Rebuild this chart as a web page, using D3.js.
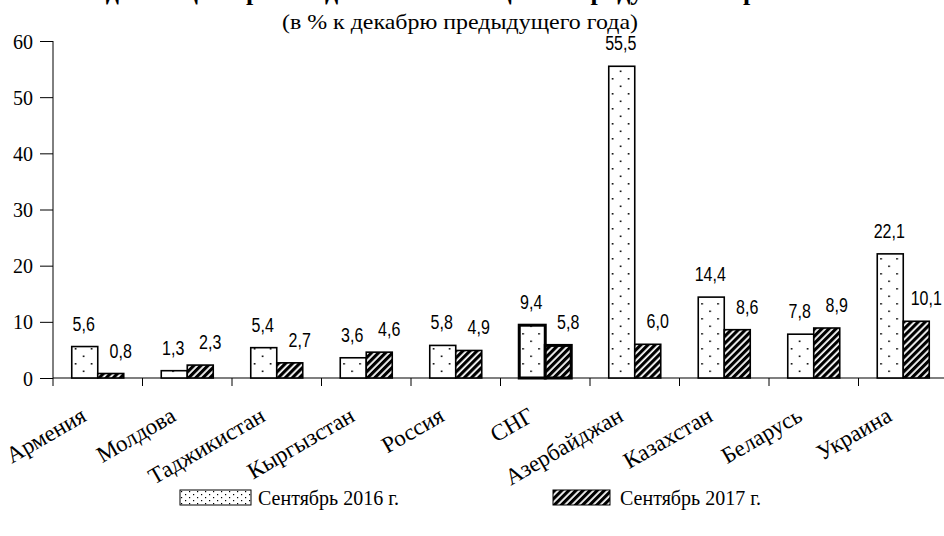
<!DOCTYPE html>
<html>
<head>
<meta charset="utf-8">
<script src="https://cdn.jsdelivr.net/npm/d3@7"></script>
<style>
  body { margin: 0; background: #fff; }
  svg { display: block; }
</style>
</head>
<body>
<svg id="chart" width="944" height="536"></svg>
<script>
const countries = ["Армения", "Молдова", "Таджикистан", "Кыргызстан", "Россия", "СНГ",
    "Азербайджан", "Казахстан", "Беларусь", "Украина"];
const sep2016 = [5.6, 1.3, 5.4, 3.6, 5.8, 9.4, 55.5, 14.4, 7.8, 22.1];
const sep2017 = [0.8, 2.3, 2.7, 4.6, 4.9, 5.8, 6.0, 8.6, 8.9, 10.1];
const seriesNames = ["Сентябрь 2016 г.", "Сентябрь 2017 г."];
const yTicks = [0, 10, 20, 30, 40, 50, 60];

const svg = d3.select("#chart");
const serif = "'Liberation Serif', 'Times New Roman', serif";
const sans = "'Liberation Sans', Arial, sans-serif";

// patterns
const defs = svg.append("defs");
const dots = defs.append("pattern")
    .attr("id", "dots")
    .attr("patternUnits", "userSpaceOnUse")
    .attr("width", 16).attr("height", 15);
dots.append("rect").attr("width", 16).attr("height", 15).attr("fill", "#fff");
dots.append("rect").attr("x", 3).attr("y", 3).attr("width", 1.6).attr("height", 1.6).attr("fill", "#000");
dots.append("rect").attr("x", 11).attr("y", 10.5).attr("width", 1.6).attr("height", 1.6).attr("fill", "#000");

const dotsSmall = defs.append("pattern")
    .attr("id", "dotsSmall")
    .attr("patternUnits", "userSpaceOnUse")
    .attr("width", 8).attr("height", 6);
dotsSmall.append("rect").attr("width", 8).attr("height", 6).attr("fill", "#fff");
dotsSmall.append("rect").attr("x", 1).attr("y", 1).attr("width", 1.2).attr("height", 1.2).attr("fill", "#000");
dotsSmall.append("rect").attr("x", 5).attr("y", 4).attr("width", 1.2).attr("height", 1.2).attr("fill", "#000");

const hatch = defs.append("pattern")
    .attr("id", "hatch")
    .attr("patternUnits", "userSpaceOnUse")
    .attr("width", 5).attr("height", 5)
    .attr("patternTransform", "rotate(45)");
hatch.append("rect").attr("width", 5).attr("height", 5).attr("fill", "#fff");
hatch.append("rect").attr("x", 0).attr("y", 0).attr("width", 3.2).attr("height", 5).attr("fill", "#000");

const fills = ["url(#dots)", "url(#hatch)"];

const x = d3.scaleBand().domain(countries).range([53, 948]);
const xSub = d3.scaleBand().domain([0, 1]).range([0, 52]);
const y = d3.scaleLinear().domain([0, 60]).range([378, 41]);

// title, cut off at the top edge like in the source
svg.append("text")
    .attr("x", 472).attr("y", 0)
    .attr("text-anchor", "middle")
    .attr("font-family", serif).attr("font-weight", "bold").attr("font-size", 26)
    .text("Индексы цен производителей на пищевые продукты в странах СНГ");

svg.append("text")
    .attr("x", 460).attr("y", 29)
    .attr("text-anchor", "middle")
    .attr("textLength", 356).attr("lengthAdjust", "spacingAndGlyphs")
    .attr("font-family", serif).attr("font-size", 22)
    .text("(в % к декабрю предыдущего года)");

// y axis
const yAxis = svg.append("g")
    .attr("transform", "translate(53,0)")
    .call(d3.axisLeft(y).tickValues(yTicks).tickSize(13).tickPadding(7).tickFormat(d3.format("d")));
yAxis.select(".domain").attr("d", `M0,${y(60)}V${y(0)}`).attr("stroke", "#000");
yAxis.selectAll(".tick line").attr("stroke", "#000");
yAxis.selectAll(".tick text")
    .attr("font-family", serif).attr("font-size", 20).attr("fill", "#000").attr("dy", "0.35em");

// x axis line and separators
const bounds = countries.map(c => x(c));
svg.append("line")
    .attr("x1", 53).attr("x2", 944)
    .attr("y1", y(0)).attr("y2", y(0))
    .attr("stroke", "#000").attr("stroke-width", 1.2);
svg.append("g").selectAll("line")
    .data(bounds)
    .join("line")
    .attr("x1", d => d).attr("x2", d => d)
    .attr("y1", y(0)).attr("y2", y(0) + 8)
    .attr("stroke", "#000");

// bars
const groups = svg.append("g").selectAll("g")
    .data(countries)
    .join("g")
    .attr("transform", d => `translate(${x(d) + x.bandwidth() / 2 - 26},0)`);

groups.selectAll("rect")
    .data((c, i) => [sep2016[i], sep2017[i]].map((v, s) => ({ v, s, c })))
    .join("rect")
    .attr("x", d => xSub(d.s))
    .attr("width", xSub.bandwidth())
    .attr("y", d => y(d.v))
    .attr("height", d => y(0) - y(d.v))
    .attr("fill", d => fills[d.s])
    .attr("stroke", "#000")
    .attr("stroke-width", d => d.c === "СНГ" ? 3 : 1.6);

// value labels (narrow sans)
groups.selectAll("text")
    .data((c, i) => [sep2016[i], sep2017[i]].map((v, s) => ({ v, s })))
    .join("text")
    .attr("transform", d => `translate(${xSub(d.s) + xSub.bandwidth() / 2 + (d.s === 0 ? -1 : 10)},${y(d.v) - 16}) scale(0.8,1)`)
    .attr("text-anchor", "middle")
    .attr("font-family", sans).attr("font-size", 20).attr("fill", "#000")
    .text(d => d.v.toFixed(1).replace(".", ","));

// category labels
svg.append("g").selectAll("text")
    .data(countries)
    .join("text")
    .attr("transform", d => `translate(${x(d) + x.bandwidth() / 2 - 10},${y(0) + 42}) rotate(-30)`)
    .attr("text-anchor", "end")
    .attr("font-family", serif).attr("font-size", 23)
    .text(d => d);

// legend
const legend = [
    { name: seriesNames[0], fill: "url(#dotsSmall)", x: 180 },
    { name: seriesNames[1], fill: "url(#hatch)", x: 553 }
];
const lg = svg.append("g").selectAll("g")
    .data(legend)
    .join("g")
    .attr("transform", d => `translate(${d.x},490)`);
lg.append("rect")
    .attr("width", (d, i) => i === 0 ? 71 : 57).attr("height", 15)
    .attr("fill", d => d.fill)
    .attr("stroke", "#000").attr("stroke-width", 1);
lg.append("text")
    .attr("x", (d, i) => i === 0 ? 78 : 67).attr("y", 15)
    .attr("font-family", serif).attr("font-size", 20)
    .text(d => d.name);
</script>
</body>
</html>
